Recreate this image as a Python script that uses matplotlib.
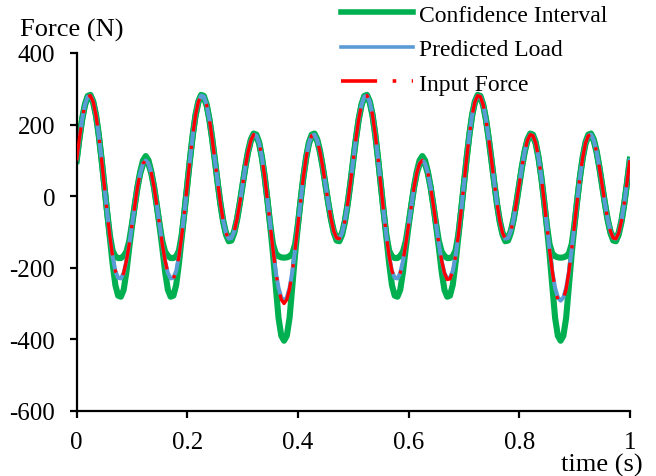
import numpy as np
import matplotlib
matplotlib.use('Agg')
import matplotlib.pyplot as plt
from matplotlib.lines import Line2D

plt.rcParams['font.family'] = ['Liberation Serif', 'DejaVu Serif']
plt.rcParams['font.size'] = 17
plt.rcParams['axes.unicode_minus'] = False

# sample times (s), 0.005 s step
time = np.linspace(0, 1, 201)

# input force (N)
input_force = [
    100, 161, 215, 255, 278, 281, 263, 226, 171, 104,
    31, -43, -111, -168, -209, -231, -233, -215, -181, -135,
    -81, -26, 25, 65, 91, 100, 91, 65, 25, -26,
    -81, -135, -181, -215, -233, -231, -209, -168, -111, -43,
    31, 104, 171, 226, 263, 281, 278, 255, 215, 161,
    100, 37, -21, -69, -103, -119, -117, -98, -64, -19,
    31, 81, 124, 156, 172, 169, 148, 108, 54, -11,
    -81, -149, -211, -259, -289, -300, -289, -259, -211, -149,
    -81, -11, 54, 108, 148, 169, 172, 156, 124, 81,
    31, -19, -64, -98, -117, -119, -103, -69, -21, 37,
    100, 161, 215, 255, 278, 281, 263, 226, 171, 104,
    31, -43, -111, -168, -209, -231, -233, -215, -181, -135,
    -81, -26, 25, 65, 91, 100, 91, 65, 25, -26,
    -81, -135, -181, -215, -233, -231, -209, -168, -111, -43,
    31, 104, 171, 226, 263, 281, 278, 255, 215, 161,
    100, 37, -21, -69, -103, -119, -117, -98, -64, -19,
    31, 81, 124, 156, 172, 169, 148, 108, 54, -11,
    -81, -149, -211, -259, -289, -300, -289, -259, -211, -149,
    -81, -11, 54, 108, 148, 169, 172, 156, 124, 81,
    31, -19, -64, -98, -117, -119, -103, -69, -21, 37,
    100]

# predicted load (N), blue curve
predicted_load = [
    100, 161, 215, 255, 278, 281, 263, 226, 171, 104,
    31, -43, -111, -168, -209, -228, -230, -215, -181, -135,
    -81, -26, 25, 65, 91, 100, 91, 65, 25, -26,
    -81, -135, -181, -215, -230, -228, -209, -168, -111, -43,
    31, 104, 171, 226, 263, 281, 278, 255, 215, 161,
    100, 37, -21, -69, -103, -119, -117, -98, -64, -19,
    31, 81, 124, 156, 172, 169, 148, 108, 54, -11,
    -81, -149, -211, -256, -283, -292, -283, -256, -211, -149,
    -81, -11, 54, 108, 148, 169, 172, 156, 124, 81,
    31, -19, -64, -98, -117, -119, -103, -69, -21, 37,
    100, 161, 215, 255, 278, 281, 263, 226, 171, 104,
    31, -43, -111, -168, -209, -228, -230, -215, -181, -135,
    -81, -26, 25, 65, 91, 100, 91, 65, 25, -26,
    -81, -135, -181, -215, -230, -228, -209, -168, -111, -43,
    31, 104, 171, 226, 263, 281, 278, 255, 215, 161,
    100, 37, -21, -69, -103, -119, -117, -98, -64, -19,
    31, 81, 124, 156, 172, 169, 148, 108, 54, -11,
    -81, -149, -211, -256, -283, -292, -283, -256, -211, -149,
    -81, -11, 54, 108, 148, 169, 172, 156, 124, 81,
    31, -19, -64, -98, -117, -119, -103, -69, -21, 37,
    100]

# confidence interval bounds (N), green curves
ci_upper = [
    102, 163, 217, 257, 280, 283, 265, 228, 173, 106,
    32, -42, -108, -152, -168, -173, -173, -167, -155, -126,
    -78, -25, 27, 69, 100, 112, 100, 69, 27, -25,
    -78, -126, -155, -167, -173, -173, -168, -152, -108, -42,
    32, 106, 173, 228, 265, 283, 280, 257, 217, 163,
    102, 38, -20, -68, -102, -118, -116, -97, -63, -18,
    33, 83, 127, 159, 175, 172, 151, 110, 56, -10,
    -79, -134, -160, -168, -171, -172, -171, -168, -160, -134,
    -79, -10, 56, 110, 151, 172, 175, 159, 127, 83,
    33, -18, -63, -97, -116, -118, -102, -68, -20, 38,
    102, 163, 217, 257, 280, 283, 265, 228, 173, 106,
    32, -42, -108, -152, -168, -173, -173, -167, -155, -126,
    -78, -25, 27, 69, 100, 112, 100, 69, 27, -25,
    -78, -126, -155, -167, -173, -173, -168, -152, -108, -42,
    32, 106, 173, 228, 265, 283, 280, 257, 217, 163,
    102, 38, -20, -68, -102, -118, -116, -97, -63, -18,
    33, 83, 127, 159, 175, 172, 151, 110, 56, -10,
    -79, -134, -160, -168, -171, -172, -171, -168, -160, -134,
    -79, -10, 56, 110, 151, 172, 175, 159, 127, 83,
    33, -18, -63, -97, -116, -118, -102, -68, -20, 38,
    102]

ci_lower = [
    98, 159, 213, 253, 276, 279, 261, 224, 169, 102,
    29, -45, -116, -188, -248, -278, -281, -262, -212, -146,
    -85, -28, 23, 63, 89, 97, 89, 63, 23, -28,
    -85, -146, -212, -262, -281, -278, -248, -188, -116, -45,
    29, 102, 169, 224, 261, 279, 276, 253, 213, 159,
    98, 35, -24, -73, -108, -126, -124, -103, -67, -21,
    29, 79, 122, 154, 170, 167, 146, 106, 52, -13,
    -84, -162, -252, -340, -390, -404, -390, -340, -252, -162,
    -84, -13, 52, 106, 146, 167, 170, 154, 122, 79,
    29, -21, -67, -103, -124, -126, -108, -73, -24, 35,
    98, 159, 213, 253, 276, 279, 261, 224, 169, 102,
    29, -45, -116, -188, -248, -278, -281, -262, -212, -146,
    -85, -28, 23, 63, 89, 97, 89, 63, 23, -28,
    -85, -146, -212, -262, -281, -278, -248, -188, -116, -45,
    29, 102, 169, 224, 261, 279, 276, 253, 213, 159,
    98, 35, -24, -73, -108, -126, -124, -103, -67, -21,
    29, 79, 122, 154, 170, 167, 146, 106, 52, -13,
    -84, -162, -252, -340, -390, -404, -390, -340, -252, -162,
    -84, -13, 52, 106, 146, 167, 170, 154, 122, 79,
    29, -21, -67, -103, -124, -126, -108, -73, -24, 35,
    98]

x_ticks = [0, 0.2, 0.4, 0.6, 0.8, 1]
x_labels = ['0', '0.2', '0.4', '0.6', '0.8', '1']
y_ticks = [-600, -400, -200, 0, 200, 400]
y_labels = ['-600', '-400', '-200', '0', '200', '400']

green = '#00B050'
blue = '#5B9BD5'
red = '#FF0000'
red_style = (0, (10, 4.3, 1, 4.3))

fig = plt.figure(figsize=(6.56, 4.77), dpi=100)
ax = fig.add_axes([0.1168, 0.1365, 0.8432, 0.7503])

ax.plot(time, ci_upper, color=green, lw=4.4, zorder=1)
ax.plot(time, ci_lower, color=green, lw=4.4, zorder=1)
ax.plot(time, predicted_load, color=blue, lw=2.9, zorder=2)
ax.plot(time, input_force, color=red, lw=2.4, ls=red_style, zorder=3)

ax.set_xlim(0, 1)
ax.set_ylim(-600, 400)
ax.set_xticks(x_ticks)
ax.set_xticklabels(x_labels, fontsize=18)
ax.set_yticks(y_ticks)
ax.set_yticklabels(y_labels, fontsize=18)
for s in ['top', 'right']:
    ax.spines[s].set_visible(False)
for s in ['left', 'bottom']:
    ax.spines[s].set_linewidth(1.6)
ax.tick_params(axis='both', width=1.6, length=5, direction='out')
ax.tick_params(axis='y', pad=10.5)
ax.tick_params(axis='x', pad=9.5)

fig.text(20/656, 1 - 37/477, 'Force (N)', ha='left', va='baseline', fontsize=19)
fig.text(643/656, 1 - 472/477, 'time (s)', ha='right', va='baseline', fontsize=19)

handles = [Line2D([], [], color=green, lw=4.0),
           Line2D([], [], color=blue, lw=2.6),
           Line2D([], [], color=red, lw=2.6, ls=red_style)]
fig.legend(handles, ['Confidence Interval', 'Predicted Load', 'Input Force'],
           loc='upper left', bbox_to_anchor=(341/656, 1 - 5/477),
           frameon=False, borderpad=0, borderaxespad=0, fontsize=17,
           handlelength=3.05, handletextpad=0.25, labelspacing=0.55)

fig.savefig('out.png', dpi=100)
